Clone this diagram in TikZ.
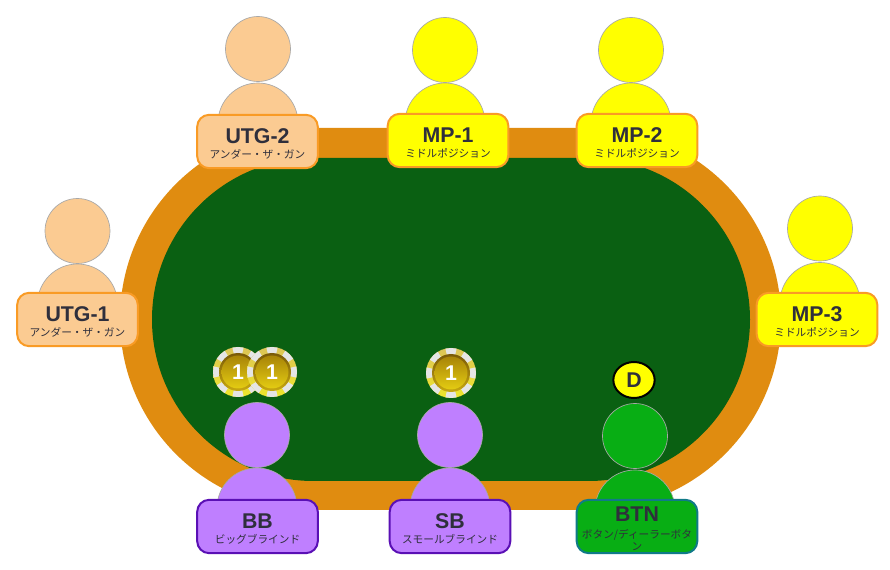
\documentclass[tikz,border=0pt]{standalone}
\usepackage{fontspec}
\setmainfont{Liberation Sans}
\newfontfamily\jpfont{Noto Sans CJK JP}
\usetikzlibrary{shapes.geometric}
\definecolor{rail}{HTML}{E08C10}
\definecolor{felt}{HTML}{0A6012}
\definecolor{peach}{HTML}{FBCB92}
\definecolor{peachline}{HTML}{F99B25}
\definecolor{seatyellow}{HTML}{FFFF00}
\definecolor{violet}{HTML}{BF7FFF}
\definecolor{violetline}{HTML}{5A10B5}
\definecolor{btngreen}{HTML}{08AE14}
\definecolor{btnline}{HTML}{107A88}
\definecolor{dkslate}{HTML}{2F2F3C}
\definecolor{chipgold}{HTML}{DCC458}
\definecolor{chipyellow}{HTML}{EEE62A}
\definecolor{chipdark}{HTML}{7A5A08}
\definecolor{chiprim}{HTML}{C8A810}
\definecolor{chiptop}{HTML}{A88408}
\definecolor{chipbottom}{HTML}{E4CC12}
\definecolor{seatline}{HTML}{A8A8A8}
\newcommand{\seattitle}[1]{\rule{0pt}{14.5pt}\fontsize{16}{16}\bfseries #1}
\newcommand{\seatsub}[1]{\jpfont\fontsize{8}{9}\selectfont #1}
\begin{document}
\begin{tikzpicture}[
  x=0.75pt, y=-0.75pt,
  table/.style={draw=none, fill=#1, inner sep=0pt},
  head/.style={circle, draw=seatline, line width=0.5pt, fill=#1,
    minimum size=48.75pt, inner sep=0pt},
  body/.style={circle, draw=seatline, line width=0.5pt, fill=#1,
    minimum size=60pt, inner sep=0pt},
  tag/.style n args={2}{draw=#2, line width=1.5pt, fill=#1, rounded corners=9pt,
    minimum width=90.5pt, minimum height=40pt, inner sep=0pt, align=center,
    text=dkslate},
  chip/.pic={
    \shade[top color=chipgold, bottom color=chipyellow] (0,0) circle (25);
    \foreach \a in {0,45,...,315}
      \fill[white!90!black] (\a-13:25) arc[start angle=\a-13, end angle=\a+13, radius=25]
        -- (\a+13:18) -- (\a-13:18) -- cycle;
    \shade[top color=chipdark, bottom color=chiprim] (0,0) circle (19);
    \shade[top color=chiptop, bottom color=chipbottom] (0,0) circle (16.5);
    \node[font=\fontsize{16}{16}\bfseries, text=white] (-num) at (0,0) {1};
  },
]

% Background
\useasboundingbox (0,0) rectangle (890,570);
\fill[white] (0,0) rectangle (890,570);

% Table
\node[table=rail, minimum width=495.75pt, minimum height=286.5pt, rounded corners=143.25pt]
  (rail) at (450.5,319) {};
\node[table=felt, minimum width=448.5pt, minimum height=242.25pt, rounded corners=121pt]
  (felt) at (451,319.5) {};

% === Top seats ===

\node[body=peach] (utgonebody) at (77.5,304) {};
\node[head=peach] (utgonehead) at (77.5,231) {};
\node[tag={peach}{peachline}] (utgone) at (77.5,319.5)
  {\seattitle{UTG-1}\\[-1pt]\seatsub{アンダー・ザ・ガン}};

\node[body=peach] (utgtwobody) at (258,123) {};
\node[head=peach] (utgtwohead) at (258,49) {};
\node[tag={peach}{peachline}] (utgtwo) at (257.5,141.5)
  {\seattitle{UTG-2}\\[-1pt]\seatsub{アンダー・ザ・ガン}};

\node[body=seatyellow] (mponebody) at (445,123) {};
\node[head=seatyellow] (mponehead) at (445,50) {};
\node[tag={seatyellow}{peachline}] (mpone) at (448,140.5)
  {\seattitle{MP-1}\\[-1pt]\seatsub{ミドルポジション}};

\node[body=seatyellow] (mptwobody) at (631,123) {};
\node[head=seatyellow] (mptwohead) at (631,50) {};
\node[tag={seatyellow}{peachline}] (mptwo) at (637,140.5)
  {\seattitle{MP-2}\\[-1pt]\seatsub{ミドルポジション}};

\node[body=seatyellow] (mpthreebody) at (820,302.5) {};
\node[head=seatyellow] (mpthreehead) at (820,228.5) {};
\node[tag={seatyellow}{peachline}] (mpthree) at (817,319.5)
  {\seattitle{MP-3}\\[-1pt]\seatsub{ミドルポジション}};

% === Bottom seats ===

\pic (chipbbl) at (238,372) {chip};
\pic (chipbbr) at (272,372) {chip};
\node[body=violet] (bbbody) at (257,508) {};
\node[head=violet] (bbhead) at (257,435) {};
\node[tag={violet}{violetline}] (bb) at (257.5,526.5)
  {\seattitle{BB}\\[-1pt]\seatsub{ビッグブラインド}};

\pic (chipsb) at (451,373) {chip};
\node[body=violet] (sbbody) at (450,508) {};
\node[head=violet] (sbhead) at (450,435) {};
\node[tag={violet}{violetline}] (sb) at (450,526.5)
  {\seattitle{SB}\\[-1pt]\seatsub{スモールブラインド}};

\node[ellipse, draw=black, line width=1.5pt, fill=seatyellow, minimum width=31pt,
  minimum height=27pt, inner sep=0pt, text=dkslate, font=\fontsize{16}{16}\bfseries]
  (dealer) at (634,380) {D};
\node[body=btngreen] (btnbody) at (635,510) {};
\node[head=btngreen] (btnhead) at (635,436) {};
\node[tag={btngreen}{btnline}] (btn) at (637,526.5)
  {\seattitle{BTN}\\[1pt]\seatsub{ボタン/ディーラーボタ}\\[-3pt]\seatsub{ン}};

\end{tikzpicture}
\end{document}
